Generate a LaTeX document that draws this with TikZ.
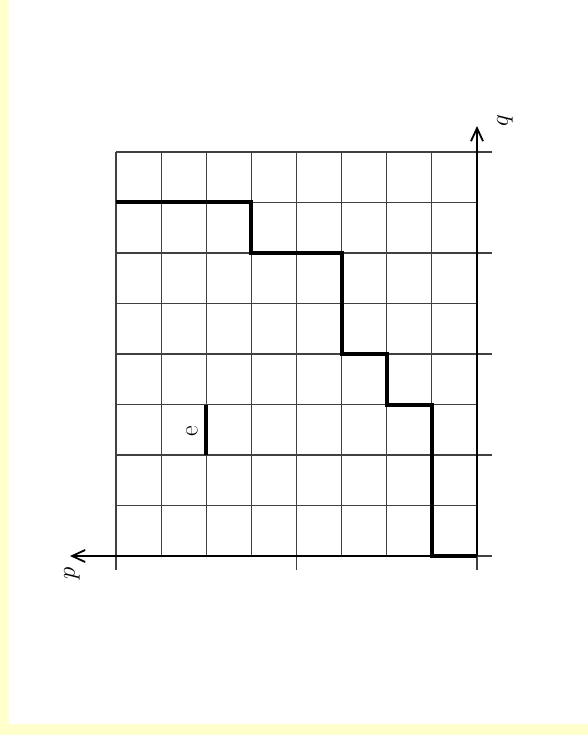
\documentclass[tikz,border=0pt]{standalone}
\usetikzlibrary{arrows.meta}
\definecolor{bgyellow}{RGB}{255,255,204}
\begin{document}
\begin{tikzpicture}[x=1pt,y=-1pt,
  gridline/.style={line width=1.2pt,black!75},
  axisline/.style={line width=2pt,black,-{Straight Barb[length=13pt,width=12pt,line width=1.8pt]}},
  stairline/.style={line width=4pt,black,line join=miter},
  lbl/.style={inner sep=0pt,rotate=90,font=\fontsize{26}{30}\selectfont}]
\fill[bgyellow] (0,0) rectangle (588,735);
\fill[white] (9,0) rectangle (588,724);
\useasboundingbox (0,0) rectangle (588,735);
% grid
\foreach \i in {0,...,8}{
  \pgfmathsetmacro{\yy}{152+50.5*\i}
  \pgfmathsetmacro{\xx}{116+45.125*\i}
  \draw[gridline] (116,\yy) -- (477,\yy);
  \draw[gridline] (\xx,152) -- (\xx,556);
}
\foreach \i in {0,2,4,6,8}{
  \pgfmathsetmacro{\yy}{152+50.5*\i}
  \draw[gridline] (477,\yy) -- (492,\yy);
}
\foreach \i in {0,4,8}{
  \pgfmathsetmacro{\xx}{116+45.125*\i}
  \draw[gridline] (\xx,556) -- (\xx,570);
}
% axes
\coordinate (O) at (477,556);
\coordinate (pend) at (70,556);
\coordinate (qend) at (477,126);
\draw[axisline] (O) -- (pend);
\draw[axisline] (O) -- (qend);
\node[lbl] (plabel) at (72,573) {$p$};
\node[lbl] (qlabel) at (505,121) {$q$};
% staircase
\draw[stairline] (116,202.5) -- (251.4,202.5) -- (251.4,253) -- (341.6,253)
  -- (341.6,354) -- (386.75,354) -- (386.75,404.5) -- (431.9,404.5)
  -- (431.9,556) -- (477,556);
% edge e
\coordinate (e1) at (206.25,404.5);
\coordinate (e2) at (206.25,455);
\draw[line width=4pt] (e1) -- (e2);
\node[lbl] (elabel) at (192,431) {e};
\end{tikzpicture}
\end{document}
